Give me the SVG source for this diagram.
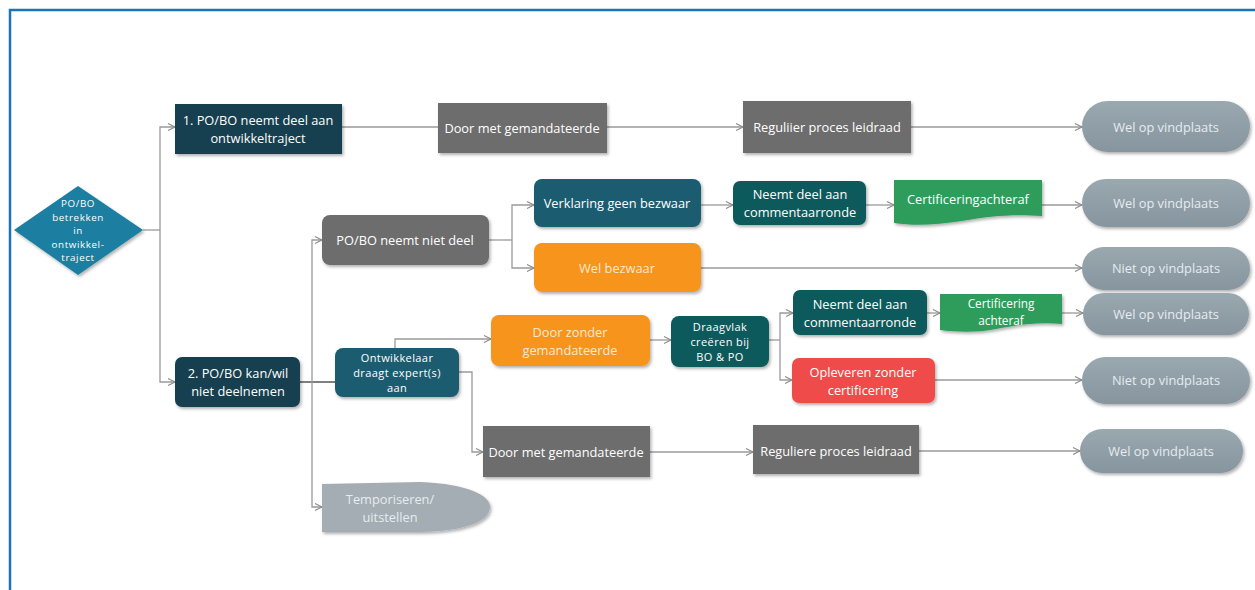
<svg xmlns="http://www.w3.org/2000/svg" width="1255" height="590" viewBox="0 0 1255 590">
<defs>
<filter id="sh" x="-10%" y="-10%" width="125%" height="140%">
<feDropShadow dx="1.5" dy="2" stdDeviation="1.5" flood-color="#000" flood-opacity="0.3"/>
</filter>
<linearGradient id="pillg" x1="0" y1="0" x2="0" y2="1">
<stop offset="0" stop-color="#9aa8b0"/>
<stop offset="1" stop-color="#86959e"/>
</linearGradient>
<marker id="arr" markerWidth="10" markerHeight="10" refX="8" refY="4" orient="auto" markerUnits="userSpaceOnUse">
<path d="M1,0.5 L8,4 L1,7.5" fill="none" stroke="#8a8a8a" stroke-width="1.1"/>
</marker>
<style>
.c{fill:none;stroke:#9a9a9a;stroke-width:1.3}
.t{font-family:"Open Sans","Noto Sans",sans-serif;font-size:12.8px;fill:#ffffff;text-anchor:middle;dominant-baseline:central}
.d{font-size:9.8px;letter-spacing:0.6px}
.s3{font-size:11px;letter-spacing:0.4px}
.s2{font-size:11.8px}
.tp{fill:#e6ecef}
.to{fill:#fde9cf}
.navy{fill:#163f50;filter:url(#sh)}
.blue{fill:#1e5b6f;filter:url(#sh)}
.teal{fill:#0e5a5c;filter:url(#sh)}
.gray{fill:#6d6d6d;filter:url(#sh)}
.orange{fill:#f7941d;filter:url(#sh)}
.red{fill:#f04b4b;filter:url(#sh)}
.green{fill:#2e9d5b;filter:url(#sh)}
.pill{fill:url(#pillg);filter:url(#sh)}
</style>
</defs>
<rect width="1255" height="590" fill="#ffffff"/>
<path d="M10,590 V10 H1255" fill="none" stroke="#1a74b9" stroke-width="2.5"/>

<g id="connectors">
<path class="c" d="M143,230 H160"/>
<path class="c" d="M160,230 V127 H175" marker-end="url(#arr)"/>
<path class="c" d="M160,230 V382 H175" marker-end="url(#arr)"/>
<path class="c" d="M342,127 H438"/>
<path class="c" d="M607,127 H743" marker-end="url(#arr)"/>
<path class="c" d="M911,127 H1082" marker-end="url(#arr)"/>
<path class="c" d="M300,382 H335" style="stroke:#555"/>
<path class="c" d="M312,382 V240 H322" marker-end="url(#arr)"/>
<path class="c" d="M312,382 V507 H322" marker-end="url(#arr)"/>
<path class="c" d="M489,240 H512"/>
<path class="c" d="M512,240 V205 H534" marker-end="url(#arr)"/>
<path class="c" d="M512,240 V268 H534" marker-end="url(#arr)"/>
<path class="c" d="M701,205 H733" marker-end="url(#arr)"/>
<path class="c" d="M866,205 H894" marker-end="url(#arr)"/>
<path class="c" d="M1042,205 H1082" marker-end="url(#arr)"/>
<path class="c" d="M701,268 H1082" marker-end="url(#arr)"/>
<path class="c" d="M395,348 V339 H491" marker-end="url(#arr)"/>
<path class="c" d="M459,372 H472 V452 H483" marker-end="url(#arr)"/>
<path class="c" d="M650,340 H671" marker-end="url(#arr)"/>
<path class="c" d="M769,340 H780"/>
<path class="c" d="M780,340 V313 H793" marker-end="url(#arr)"/>
<path class="c" d="M780,340 V380 H792" marker-end="url(#arr)"/>
<path class="c" d="M927,313 H940" marker-end="url(#arr)"/>
<path class="c" d="M1062,313 H1083" marker-end="url(#arr)"/>
<path class="c" d="M935,380 H1082" marker-end="url(#arr)"/>
<path class="c" d="M650,452 H753" marker-end="url(#arr)"/>
<path class="c" d="M919,451 H1080" marker-end="url(#arr)"/>
</g>

<g id="start">
<polygon points="78,186 143,230 78,275 14,230" fill="#1a7ea0" filter="url(#sh)"/>
<text class="t d" x="78" y="203.5">PO/BO</text>
<text class="t d" x="78" y="217">betrekken</text>
<text class="t d" x="78" y="230.5">in</text>
<text class="t d" x="78" y="244">ontwikkel-</text>
<text class="t d" x="78" y="257.5">traject</text>
</g>

<g id="n1">
<rect class="navy" x="175" y="104" width="167" height="50"/>
<text class="t" x="258" y="119.5">1. PO/BO neemt deel aan</text>
<text class="t" x="258" y="137.5">ontwikkeltraject</text>
</g>
<g id="n1a">
<rect class="gray" x="438" y="103" width="169" height="50"/>
<text class="t" x="522" y="128">Door met  gemandateerde</text>
</g>
<g id="n1b">
<rect class="gray" x="743" y="101" width="168" height="52"/>
<text class="t" x="827" y="127">Reguliier proces leidraad</text>
</g>
<g id="e1">
<rect class="pill" x="1082" y="101" width="168" height="51" rx="25.5"/>
<text class="t tp" x="1166" y="127">Wel op vindplaats</text>
</g>

<g id="n2">
<rect class="navy" x="175" y="357" width="125" height="50" rx="7"/>
<text class="t" x="238" y="373">2. PO/BO kan/wil</text>
<text class="t" x="238" y="391">niet deelnemen</text>
</g>

<g id="niet-deel">
<rect class="gray" x="322" y="215" width="167" height="50" rx="8"/>
<text class="t" x="405" y="240">PO/BO neemt niet deel</text>
</g>
<g id="verklaring">
<rect class="blue" x="534" y="179" width="167" height="48" rx="8"/>
<text class="t" x="617" y="203">Verklaring geen bezwaar</text>
</g>
<g id="wel-bezwaar">
<rect class="orange" x="534" y="243" width="167" height="49" rx="8"/>
<text class="t to" x="617" y="268">Wel bezwaar</text>
</g>
<g id="neemt1">
<rect class="teal" x="733" y="181" width="133" height="44" rx="7"/>
<text class="t" x="800" y="194">Neemt deel aan</text>
<text class="t" x="800" y="212">commentaarronde</text>
</g>
<g id="cert1">
<path class="green" d="M894,180 L1042,180 L1042,216 C1012,214 990,216 962,221 C936,225 914,226 894,223 Z"/>
<text class="t" x="968" y="199">Certificeringachteraf</text>
</g>
<g id="e2">
<rect class="pill" x="1082" y="179" width="168" height="48" rx="24"/>
<text class="t tp" x="1166" y="203">Wel op vindplaats</text>
</g>
<g id="e3">
<rect class="pill" x="1082" y="247" width="168" height="43" rx="21.5"/>
<text class="t tp" x="1166" y="268">Niet op vindplaats</text>
</g>

<g id="ontwikkelaar">
<rect class="blue" x="335" y="348" width="124" height="49" rx="8"/>
<text class="t s3" x="397" y="357.5">Ontwikkelaar</text>
<text class="t s3" x="397" y="372.5">draagt expert(s)</text>
<text class="t s3" x="397" y="387.5">aan</text>
</g>
<g id="door-zonder">
<rect class="orange" x="491" y="315" width="159" height="51" rx="8"/>
<text class="t to" x="570" y="331.5">Door zonder</text>
<text class="t to" x="570" y="349.5">gemandateerde</text>
</g>
<g id="draagvlak">
<rect class="teal" x="671" y="316" width="98" height="51" rx="8"/>
<text class="t s3" x="720" y="326.5">Draagvlak</text>
<text class="t s3" x="720" y="341.5">creëren bij</text>
<text class="t s3" x="720" y="356.5">BO &amp; PO</text>
</g>
<g id="neemt2">
<rect class="teal" x="793" y="290" width="134" height="45" rx="7"/>
<text class="t" x="860" y="303.5">Neemt deel aan</text>
<text class="t" x="860" y="321.5">commentaarronde</text>
</g>
<g id="opleveren">
<rect class="red" x="792" y="358" width="143" height="45" rx="7"/>
<text class="t" x="863" y="371.5">Opleveren zonder</text>
<text class="t" x="863" y="389.5">certificering</text>
</g>
<g id="cert2">
<path class="green" d="M940,294 L1062,294 L1062,324 C1038,322 1016,325 996,329 C976,333 956,332 940,330 Z"/>
<text class="t s2" x="1001" y="303">Certificering</text>
<text class="t s2" x="1001" y="319.5">achteraf</text>
</g>
<g id="e4">
<rect class="pill" x="1083" y="293" width="166" height="42" rx="21"/>
<text class="t tp" x="1166" y="314">Wel op vindplaats</text>
</g>
<g id="e5">
<rect class="pill" x="1082" y="357" width="168" height="47" rx="23.5"/>
<text class="t tp" x="1166" y="380">Niet op vindplaats</text>
</g>
<g id="door-met2">
<rect class="gray" x="483" y="426" width="167" height="51"/>
<text class="t" x="566" y="452">Door met gemandateerde</text>
</g>
<g id="regulier2">
<rect class="gray" x="753" y="425" width="166" height="49"/>
<text class="t" x="836" y="451">Reguliere proces leidraad</text>
</g>
<g id="e6">
<rect class="pill" x="1080" y="429" width="163" height="44" rx="22"/>
<text class="t tp" x="1161" y="451">Wel op vindplaats</text>
</g>
<g id="temporiseren">
<path d="M322,484 L420,482 C470,484 490,496 490,507 C490,520 470,531 420,532 L322,532 Z" fill="#a3adb3" filter="url(#sh)"/>
<text class="t tp" x="390" y="498.5">Temporiseren/</text>
<text class="t tp" x="390" y="516.5">uitstellen</text>
</g>
</svg>
